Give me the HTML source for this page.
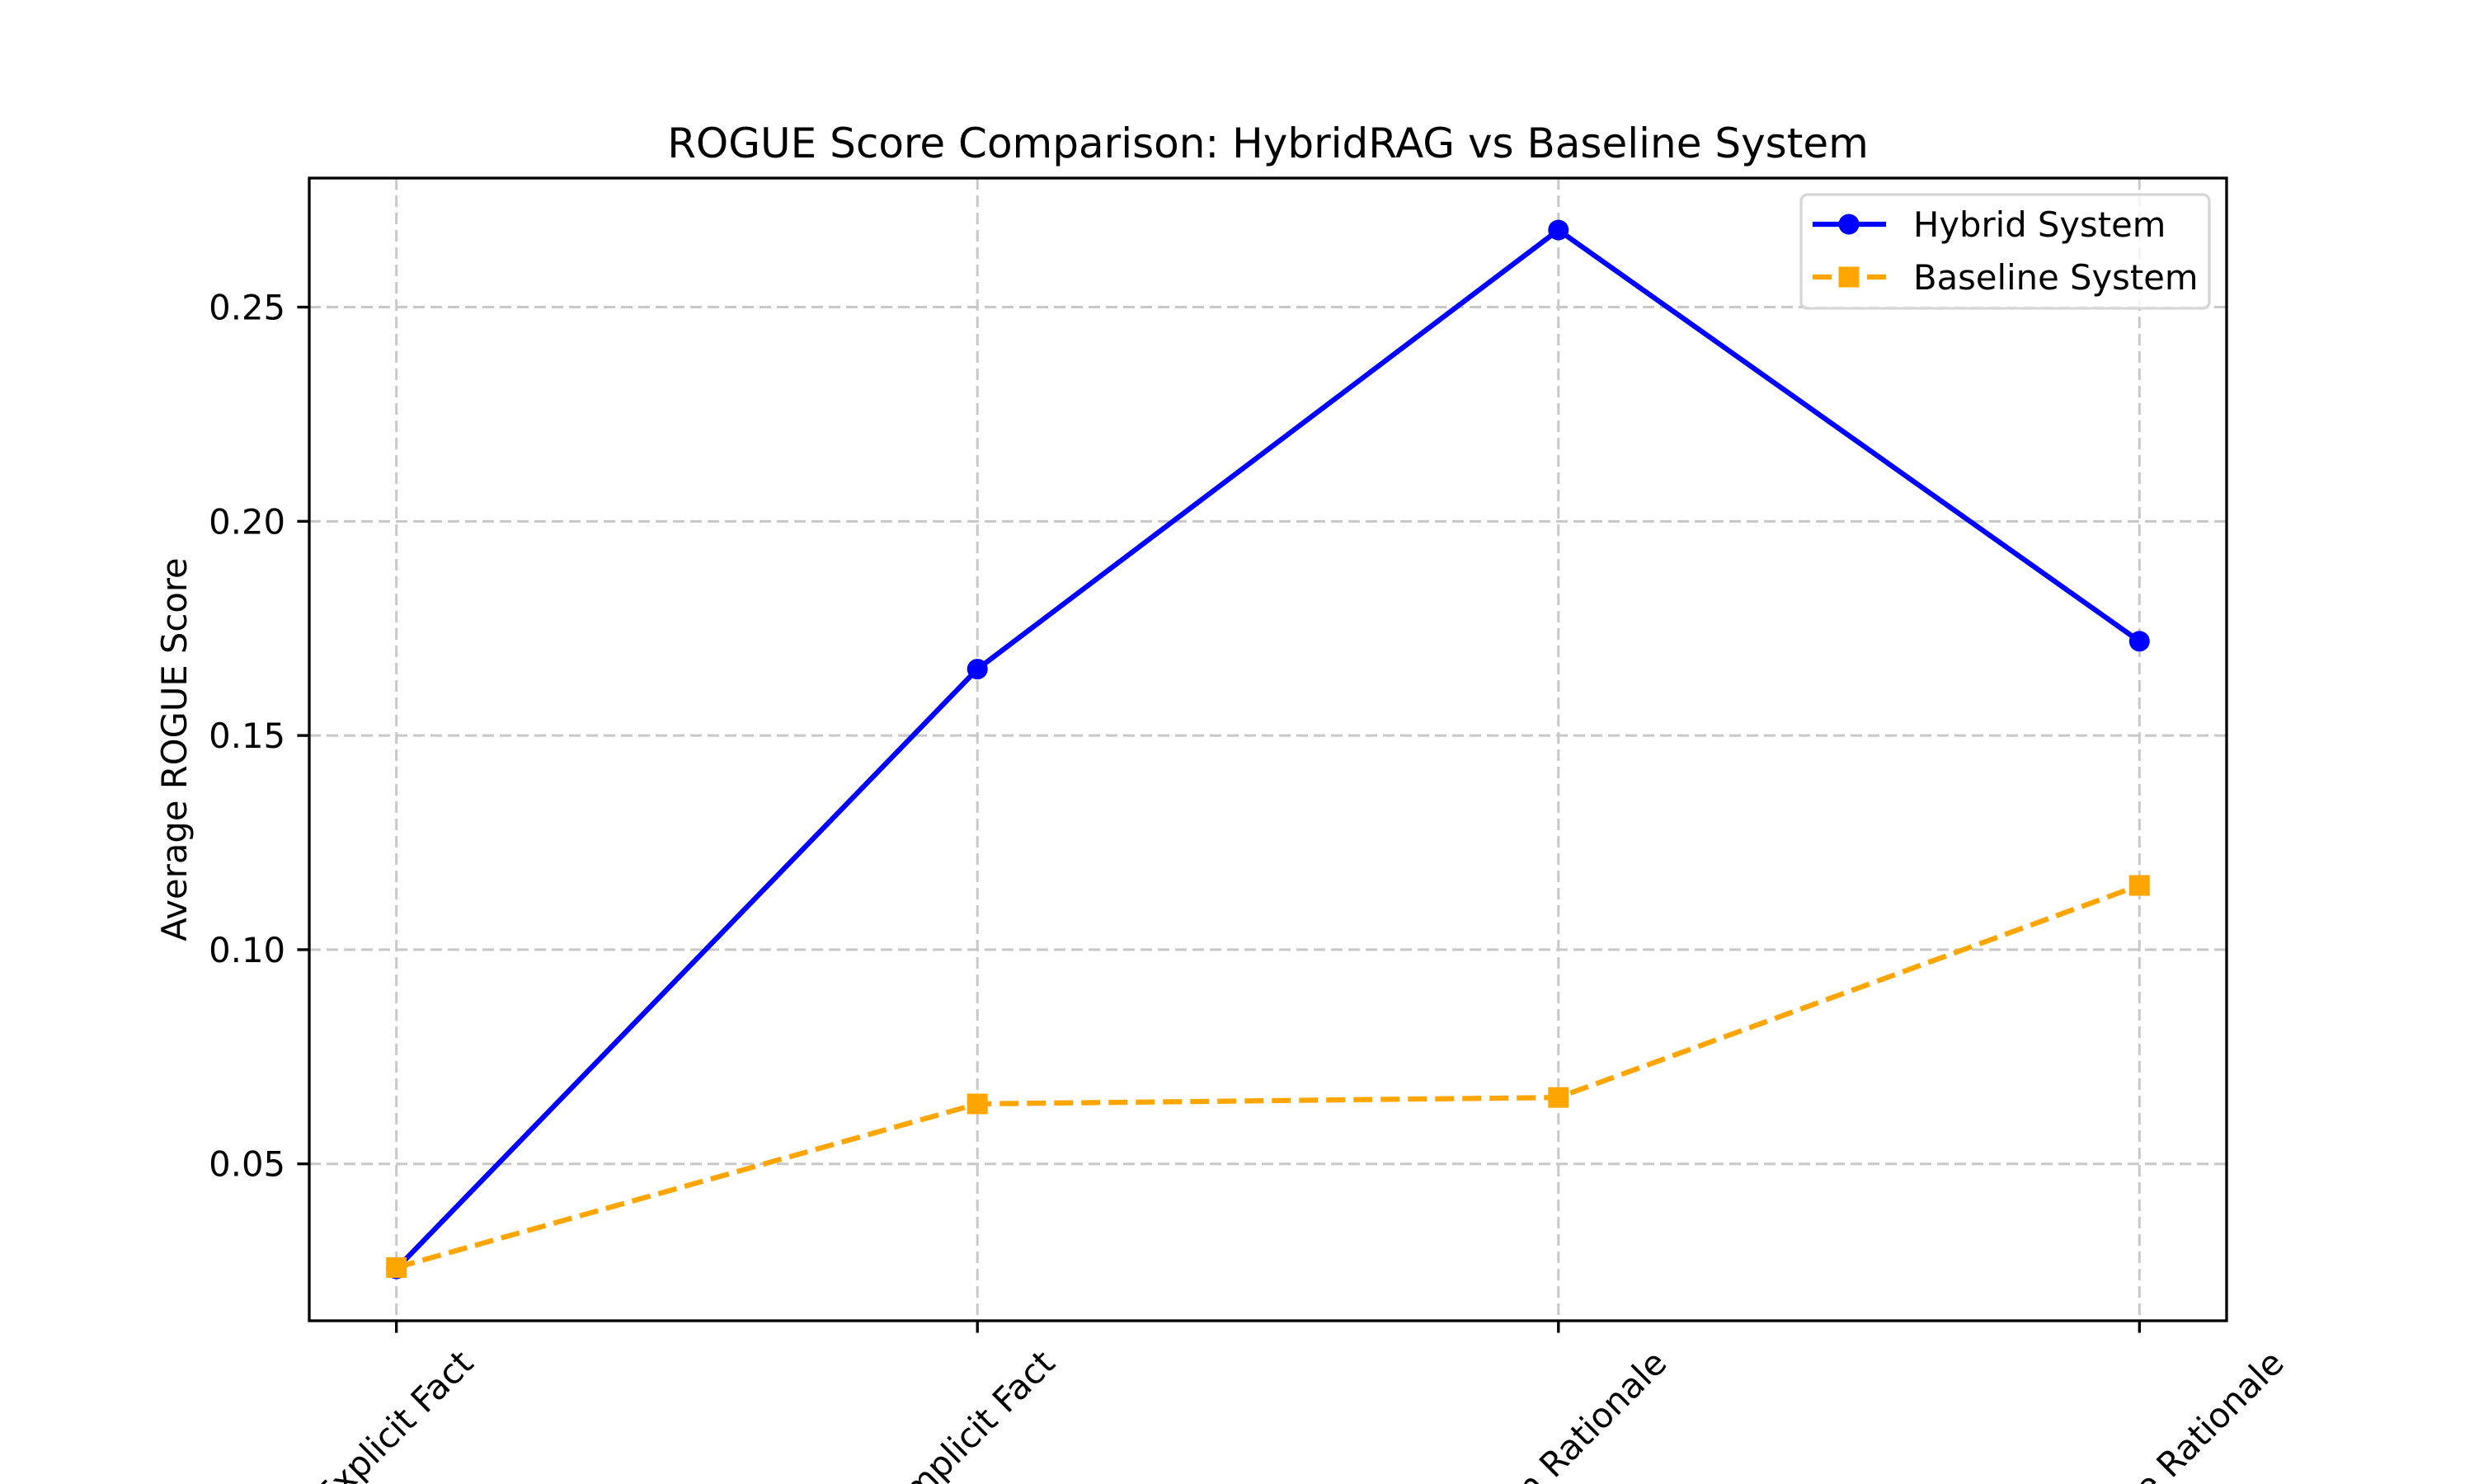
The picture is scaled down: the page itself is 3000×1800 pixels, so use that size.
<!DOCTYPE html>
<html><head><meta charset="utf-8"><style>
html,body{margin:0;padding:0;background:#fff;width:3000px;height:1800px;overflow:hidden;}
svg{display:block;font-family:"DejaVu Sans","Liberation Sans",sans-serif;overflow:hidden;}
</style></head><body>
<svg id="chart" width="3000" height="1800" viewBox="0 0 3000 1800" xmlns="http://www.w3.org/2000/svg">
<defs><clipPath id="frameClip"><rect x="0" y="0" width="3000" height="1800"/></clipPath></defs>
<rect width="3000" height="1800" fill="#fff"/>
<g id="grid"></g>
<g id="series"></g>
<rect x="375" y="216" width="2325" height="1386" fill="none" stroke="#000" stroke-width="3.33"/>
<g id="ticks" clip-path="url(#frameClip)"></g>
<text x="1537.5" y="191" font-size="50" text-anchor="middle">ROGUE Score Comparison: HybridRAG vs Baseline System</text>
<text transform="translate(226,909) rotate(-90)" font-size="41.7" text-anchor="middle">Average ROGUE Score</text>
<g>
<rect x="2184" y="236" width="495" height="138" rx="8" fill="#fff" fill-opacity="0.8" stroke="#d6d6d6" stroke-width="3.33"/>
<g>
<line x1="2198" y1="272" x2="2287" y2="272" stroke="#0000ff" stroke-width="6.25"/>
<circle cx="2242" cy="272" r="12.5" fill="#0000ff"/>
<text x="2320" y="287" font-size="41.7">Hybrid System</text>
</g>
<g>
<line x1="2198" y1="336" x2="2287" y2="336" stroke="#ffa500" stroke-width="6.25" stroke-dasharray="23,10"/>
<rect x="2229.5" y="323.5" width="25" height="25" fill="#ffa500"/>
<text x="2320" y="351" font-size="41.7">Baseline System</text>
</g>
</g>
</svg>
<script>
const categories = ["Explicit Fact", "Implicit Fact", "Hidden Rationale", "Interpretable Rationale"];
const hybridValues = [0.0255, 0.1655, 0.268, 0.172];
const baselineValues = [0.0258, 0.064, 0.0655, 0.115];
const yTicks = [0.05, 0.10, 0.15, 0.20, 0.25];
const yTickLabels = ["0.05", "0.10", "0.15", "0.20", "0.25"];

const NS = "http://www.w3.org/2000/svg";
const L = 375, R = 2700, T = 216, B = 1602;
const all = hybridValues.concat(baselineValues);
const dmin = Math.min(...all), dmax = Math.max(...all);
const pad = (dmax - dmin) * 0.05;
const ymin = dmin - pad, ymax = dmax + pad;
const xmin = -0.15, xmax = categories.length - 1 + 0.15;
function xs(i){ return L + (i - xmin) / (xmax - xmin) * (R - L); }
function ys(v){ return B - (v - ymin) / (ymax - ymin) * (B - T); }
function mk(tag, attrs, parent){ const e = document.createElementNS(NS, tag); for (const k in attrs) e.setAttribute(k, attrs[k]); parent.appendChild(e); return e; }

const grid = document.getElementById('grid');
const ticks = document.getElementById('ticks');
const series = document.getElementById('series');

categories.forEach((c, i) => {
  const x = xs(i);
  const g = mk('line', {x1:x, y1:T, x2:x, y2:B, stroke:'#c8c8c8', 'stroke-width':3, 'stroke-dasharray':'14,7'}, grid);
  
  
  const t = mk('line', {x1:x, y1:B, x2:x, y2:B + 14.6, stroke:'#000', 'stroke-width':3.33}, ticks);
  
  
  const lab = mk('text', {'font-size':41.7, 'text-anchor':'middle', 'dominant-baseline':'central'}, ticks);
  lab.textContent = c;
  
  
  const w = lab.getComputedTextLength(), h = 49;
  const cy = B + 14.6 + 14.6 + (w + h) / (2 * Math.SQRT2) - 3;
  lab.setAttribute('transform', 'translate(' + (x - 3) + ',' + cy + ') rotate(-45)');
});

yTicks.forEach((v, i) => {
  const y = ys(v);
  const g = mk('line', {x1:L, y1:y, x2:R, y2:y, stroke:'#c8c8c8', 'stroke-width':3, 'stroke-dasharray':'14,7'}, grid);
  
  
  const t = mk('line', {x1:L - 14.6, y1:y, x2:L, y2:y, stroke:'#000', 'stroke-width':3.33}, ticks);
  
  
  const lab = mk('text', {x:L - 29, y:y + 15, 'font-size':41.7, 'text-anchor':'end'}, ticks);
  lab.textContent = yTickLabels[i];
  
  
});

const hpts = hybridValues.map((v, i) => xs(i) + ',' + ys(v)).join(' ');
const hl = mk('polyline', {points:hpts, fill:'none', stroke:'#0000ff', 'stroke-width':6.25, 'stroke-linejoin':'round'}, series);


hybridValues.forEach((v, i) => {
  const c = mk('circle', {cx:xs(i), cy:ys(v), r:12.5, fill:'#0000ff'}, series);
  
  
});

const bpts = baselineValues.map((v, i) => xs(i) + ',' + ys(v)).join(' ');
const bl = mk('polyline', {points:bpts, fill:'none', stroke:'#ffa500', 'stroke-width':6.25, 'stroke-dasharray':'23,10'}, series);


baselineValues.forEach((v, i) => {
  const s = mk('rect', {x:xs(i) - 12.5, y:ys(v) - 12.5, width:25, height:25, fill:'#ffa500'}, series);
  
  
});
</script>
</body></html>
